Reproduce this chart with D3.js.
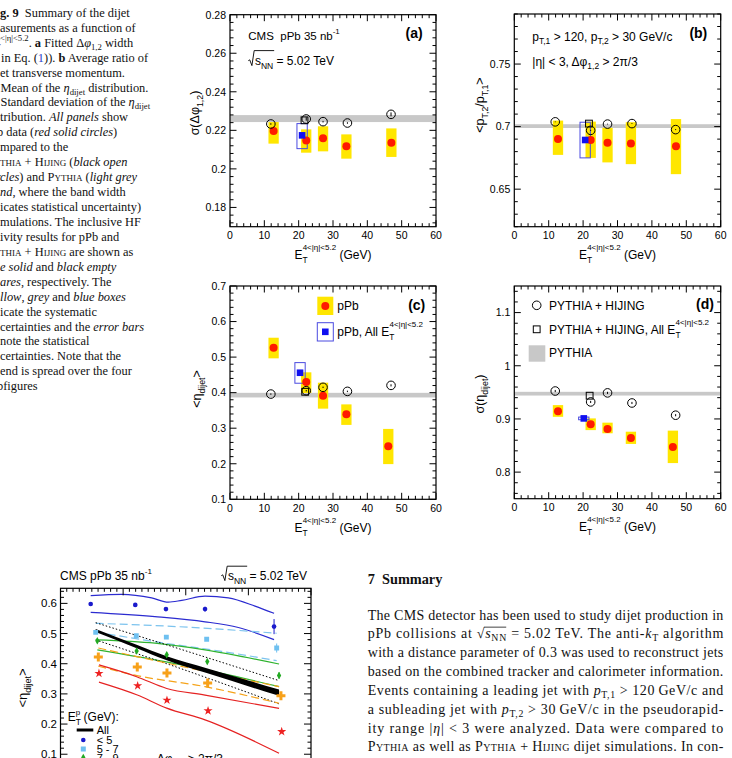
<!DOCTYPE html>
<html>
<head>
<meta charset="utf-8">
<script src="https://cdn.jsdelivr.net/npm/d3@7/dist/d3.min.js"></script>
<style>
html,body{margin:0;padding:0;background:#fff;overflow:hidden;}
svg{display:block;}
text{white-space:pre;}
</style>
</head>
<body>
<svg id="fig" width="732" height="758"></svg>
<script>
// ================= DATA : Fig. 9 (four panels) =================
const etPPb      = [12.7, 22.2, 27.1, 33.9, 47.0];   // panels a, b
const etPPbCD    = [12.7, 22.2, 27.1, 33.9, 46.1];   // panels c, d
const etHijing   = [11.9, 22.2, 27.1, 34.2, 46.9];
const etAllPPb   = [21.0, 20.6, 20.4, 20.2];         // a, b, c, d
const etAllHij   = [21.7, 21.7, 21.9, 21.9];         // a, b, c, d
const xTickValues = [0, 10, 20, 30, 40, 50, 60];

// (a) sigma(dphi_12)
const dphiPPb    = [0.2196, 0.2147, 0.2159, 0.2117, 0.2136];
const dphiSysLo  = [0.2131, 0.2084, 0.2091, 0.2053, 0.2062];
const dphiSysHi  = [0.2243, 0.2205, 0.2221, 0.2179, 0.2210];
const dphiHij    = [0.2233, 0.2259, 0.2245, 0.2238, 0.2283];
const dphiHijErr = [0.0004, 0.0009, 0.0004, 0.0004, 0.0010];
const dphiAll    = [0.2174, 0.2105, 0.2235];   // value, sys low, sys high
const dphiHijAll = [0.2252];
const dphiPythia = [0.2261, 0.0018];           // centre, half width
const dphiTicks  = [0.18, 0.2, 0.22, 0.24, 0.26, 0.28];

// (b) <pT2/pT1>
const ratioPPb    = [0.6900, 0.6893, 0.6870, 0.6865, 0.6843];
const ratioSysLo  = [0.6774, 0.6750, 0.6714, 0.6700, 0.6620];
const ratioSysHi  = [0.7048, 0.7040, 0.6990, 0.7035, 0.7060];
const ratioHij    = [0.7038, 0.6970, 0.7020, 0.7024, 0.6976];
const ratioHijErr = [0.0003, 0.0004, 0.0003, 0.0003, 0.0004];
const ratioAll    = [0.6893, 0.6750, 0.7035];
const ratioHijAll = [0.7024];
const ratioPythia = [0.7004, 0.0015];
const ratioTicks  = [0.65, 0.7, 0.75];

// (c) <eta_dijet>
const etaPPb    = [0.526, 0.430, 0.391, 0.339, 0.249];
const etaSysLo  = [0.4965, 0.399, 0.355, 0.3093, 0.199];
const etaSysHi  = [0.5545, 0.4572, 0.428, 0.367, 0.298];
const etaHij    = [0.396, 0.4055, 0.415, 0.4036, 0.4205];
const etaHijErr = [0.002, 0.002, 0.002, 0.002, 0.003];
const etaAll    = [0.456, 0.4265, 0.4845];
const etaHijAll = [0.4025];
const etaPythia = [0.393, 0.0065];
const etaTicks  = [0.1, 0.2, 0.3, 0.4, 0.5, 0.6, 0.7];

// (d) sigma(eta_dijet)
const sigEtaPPb    = [0.9144, 0.890, 0.881, 0.864, 0.847];
const sigEtaSysLo  = [0.904, 0.879, 0.873, 0.853, 0.817];
const sigEtaSysHi  = [0.926, 0.901, 0.893, 0.876, 0.878];
const sigEtaHij    = [0.9525, 0.932, 0.949, 0.930, 0.907];
const sigEtaHijErr = [0.002, 0.002, 0.002, 0.002, 0.002];
const sigEtaAll    = [0.901, 0.8985, 0.9035];
const sigEtaHijAll = [0.9437];
const sigEtaPythia = [0.9475, 0.0035];
const sigEtaTicks  = [0.8, 0.9, 1, 1.1];

// ================= DATA : Fig. 10 (partially visible) =================
const ptLt5   = [74.1, 109.7, 134.2, 165.4, 220.5];
const etaLt5  = [0.598, 0.595, 0.581, 0.581, 0.523];
const errLt5  = [0.004, 0.004, 0.006, 0.008, 0.025];
const pt5to7  = [78.1, 110.5, 134.5, 166.7, 222.6];
const eta5to7 = [0.504, 0.493, 0.488, 0.481, 0.452];
const err5to7 = [0.003, 0.004, 0.004, 0.005, 0.015];
const pt7to9  = [79.4, 110.8, 134.8, 167.2, 224.5];
const eta7to9 = [0.476, 0.442, 0.430, 0.407, 0.361];
const err7to9 = [0.008, 0.009, 0.009, 0.009, 0.011];
const pt9to12  = [80.2, 111.3, 135.0, 167.5, 226.0];
const eta9to12 = [0.422, 0.389, 0.369, 0.336, 0.294];
const pt12up   = [80.7, 111.6, 135.0, 167.8, 226.6];
const eta12up  = [0.368, 0.327, 0.279, 0.244, 0.175];
const etaYTicks = [0.1, 0.2, 0.3, 0.4, 0.5, 0.6];

// model curves [pT, <eta>]
const curveBlueHi  = [[74.1,0.626],[98.9,0.630],[122.8,0.618],[136.1,0.604],[146.8,0.610],[165.4,0.624],[184.0,0.618],[205.3,0.591],[220.5,0.567]];
const curveBlueLo  = [[74.1,0.570],[125.4,0.556],[165.4,0.539],[192.0,0.520],[220.5,0.480]];
const curveLBlueHi = [[78.1,0.534],[152.0,0.521],[222.6,0.501]];
const curveLBlueLo = [[78.1,0.505],[133.4,0.468],[178.7,0.441],[222.6,0.410]];
const curveGreenHi = [[79.4,0.479],[125.4,0.468],[165.4,0.446],[224.5,0.399]];
const curveGreenLo = [[79.4,0.446],[133.4,0.407],[178.7,0.368],[224.5,0.324]];
const curveAllPt   = [78.1, 110.8, 134.8, 166.7, 224.5];
const curveAllHi   = [0.515, 0.4625, 0.4245, 0.385, 0.3145];
const curveAllLo   = [0.505, 0.4515, 0.4115, 0.369, 0.2935];
const curveDotHi   = [[78.1,0.536],[152.0,0.440],[224.5,0.344]];
const curveDotLo   = [[78.1,0.479],[133.4,0.402],[224.5,0.267]];
const curveOrangeHi = [[80.2,0.452],[134.8,0.402],[224.5,0.324]];
const curveOrangeLo = [[80.2,0.392],[109.5,0.362],[165.4,0.324],[224.5,0.269]];
const curveRedHi   = [[80.7,0.396],[110.8,0.357],[134.8,0.318],[165.4,0.296],[224.5,0.252]];
const curveRedLo   = [[80.7,0.339],[110.8,0.297],[134.8,0.253],[165.4,0.214],[224.5,0.103]];

// ================= TEXT =================
const captionLines = [
  [2, 0,  [{t:"Fig. 9",b:1},{t:"  Summary of the dijet"}]],
  [2, 0,  [{t:"measurements as a function of"}]],
  [3, 0,  [{t:"E",i:1},{t:"T",sub:1},{t:"4<|η|<5.2",sup:1,dx:-5},{t:". "},{t:"a",b:1},{t:" Fitted Δ"},{t:"φ",i:1},{t:"1,2",sub:1},{t:" width"}]],
  [3, 1,  [{t:"("},{t:"σ",i:1},{t:" in Eq. ("},{t:"1",fill:"#2a3fc9"},{t:")). "},{t:"b",b:1},{t:" Average ratio of"}]],
  [3, 0,  [{t:"dijet transverse momentum."}]],
  [2, 0.5,[{t:"c",b:1},{t:" Mean of the "},{t:"η",i:1},{t:"dijet",sub:1},{t:" distribution."}]],
  [2, 0.5,[{t:"d",b:1},{t:" Standard deviation of the "},{t:"η",i:1},{t:"dijet",sub:1}]],
  [3, 0,  [{t:"distribution. "},{t:"All panels",i:1},{t:" show"}]],
  [2, -3, [{t:"pPb data ("},{t:"red solid circles",i:1},{t:")"}]],
  [2, 0,  [{t:"compared to the"}]],
  [2, 0,  [{t:"Pythia",sc:1},{t:" + "},{t:"Hijing",sc:1},{t:" ("},{t:"black open",i:1}]],
  [3, 0,  [{t:"circles",i:1},{t:") and "},{t:"Pythia",sc:1},{t:" ("},{t:"light grey",i:1}]],
  [2, 0,  [{t:"band",i:1},{t:", where the band width"}]],
  [3, 0,  [{t:"indicates statistical uncertainty)"}]],
  [2, 0,  [{t:"simulations. The inclusive HF"}]],
  [3, 0,  [{t:"activity results for pPb and"}]],
  [2, 0,  [{t:"Pythia",sc:1},{t:" + "},{t:"Hijing",sc:1},{t:" are shown as"}]],
  [3, 0,  [{t:"blue solid",i:1},{t:" and "},{t:"black empty",i:1}]],
  [3, 0,  [{t:"squares",i:1},{t:", respectively. The"}]],
  [2, 0,  [{t:"yellow",i:1},{t:", "},{t:"grey",i:1},{t:" and "},{t:"blue boxes",i:1}]],
  [3, 0,  [{t:"indicate the systematic"}]],
  [2, 0,  [{t:"uncertainties and the "},{t:"error bars",i:1}]],
  [2, 0,  [{t:"denote the statistical"}]],
  [2, 0,  [{t:"uncertainties. Note that the"}]],
  [3, 0,  [{t:"legend is spread over the four"}]],
  [2, -3, [{t:"subfigures"}]]
];

const summaryTitle = "7  Summary";
const summaryLines = [
  [{t:"The CMS detector has been used to study dijet production in"}],
  [{t:"pPb collisions at "},{t:"√"},{t:"s",i:1},{t:"NN",sub:1},{t:" = 5.02 TeV. The anti-"},{t:"k",i:1},{t:"T",sub:1},{t:" algorithm"}],
  [{t:"with a distance parameter of 0.3 was used to reconstruct jets"}],
  [{t:"based on the combined tracker and calorimeter information."}],
  [{t:"Events containing a leading jet with "},{t:"p",i:1},{t:"T,1",sub:1},{t:" > 120\u2009GeV/c and"}],
  [{t:"a subleading jet with "},{t:"p",i:1},{t:"T,2",sub:1},{t:" > 30\u2009GeV/c in the pseudorapid-"}],
  [{t:"ity range |"},{t:"η",i:1},{t:"| < 3 were analyzed. Data were compared to"}],
  [{t:"Pythia",sc:1},{t:" as well as "},{t:"Pythia",sc:1},{t:" + "},{t:"Hijing",sc:1},{t:" dijet simulations. In con-"}]
];

// ================= DRAWING =================
const SANS  = "'Liberation Sans', Arial, Helvetica, sans-serif";
const SERIF = "'Liberation Serif', 'Times New Roman', serif";
const YELLOW = "#ffe600", RED = "#ff1a00", GREYBAND = "#c8c8c8", BLUE = "#1010f0", BLUEBOX = "#4a4ae0";
const svg = d3.select("#fig");
svg.append("rect").attr("width", 732).attr("height", 758).attr("fill", "#fff");
const defs = svg.append("defs");

function rich(parent, x, y, segs, o = {}) {
  const fs = o.size || 12;
  const t = parent.append("text").attr("x", x).attr("y", y)
    .attr("font-family", o.family || SANS).attr("font-size", fs).attr("fill", o.fill || "#000");
  if (o.anchor) t.attr("text-anchor", o.anchor);
  if (o.weight) t.attr("font-weight", o.weight);
  if (o.transform) t.attr("transform", o.transform);
  const subS = o.subShift != null ? o.subShift : fs * 0.3;
  const supS = o.supShift != null ? o.supShift : fs * 0.45;
  let cur = 0;
  segs.forEach(s => {
    const sp = t.append("tspan").text(s.t);
    let target = s.sub ? subS : (s.sup ? -supS : 0);
    if (s.shift != null) target = s.shift;
    if (target !== cur) { sp.attr("dy", target - cur); cur = target; }
    if (s.sub || s.sup) sp.attr("font-size", s.fs || fs * (o.scriptScale || 0.7));
    if (s.dx) sp.attr("dx", s.dx);
    if (s.i) sp.attr("font-style", "italic");
    if (s.b) sp.attr("font-weight", "bold");
    if (s.sc) sp.attr("font-variant", "small-caps");
    if (s.fill) sp.attr("fill", s.fill);
  });
  return t;
}

// ROOT-like radical: draws sqrt sign before text, overline across first nUnder chars
function sqrtLabel(parent, x, y, segs, nUnder, o = {}) {
  const fs = o.size || 12;
  const rw = fs * 0.55;
  let t;
  if (o.anchor === "end") {
    t = rich(parent, x, y, segs, o);
  } else {
    t = rich(parent, x + rw, y, segs, o);
  }
  const node = t.node();
  const tx = node.getStartPositionOfChar(0).x;
  const ex = node.getEndPositionOfChar(nUnder - 1).x;
  const h = fs * (o.rootH || 1.05);
  const sx = tx - rw;
  parent.append("path")
    .attr("d", `M${sx},${y - fs * 0.36} L${sx + fs * 0.12},${y - fs * 0.43} L${sx + fs * 0.3},${y + fs * 0.05} L${tx - fs * 0.06},${y - h} L${ex + 1},${y - h}`)
    .attr("fill", "none").attr("stroke", "#000").attr("stroke-width", 0.9);
  return t;
}

function stepVals(d0, d1, step) {
  const out = [];
  for (let k = Math.ceil(d0 / step - 1e-9); k * step <= d1 + 1e-9; k++) out.push(+(k * step).toFixed(10));
  return out;
}

function ticksAround(g, x, y, xMaj, xMin, yMaj, yMin, lenMaj, lenMin) {
  const [x0, x1] = x.range(), [y1, y0] = y.range();
  const xd = x.domain(), yd = y.domain();
  const lines = [];
  stepVals(xd[0], xd[1], xMin).forEach(v => {
    const L = (Math.abs(v / xMaj - Math.round(v / xMaj)) < 1e-6) ? lenMaj : lenMin;
    lines.push([x(v), y1, x(v), y1 - L], [x(v), y0, x(v), y0 + L]);
  });
  stepVals(yd[0], yd[1], yMin).forEach(v => {
    const L = (Math.abs(v / yMaj - Math.round(v / yMaj)) < 1e-6) ? lenMaj : lenMin;
    lines.push([x0, y(v), x0 + L, y(v)], [x1, y(v), x1 - L, y(v)]);
  });
  g.append("g").selectAll("line").data(lines).join("line")
    .attr("x1", d => d[0]).attr("y1", d => d[1]).attr("x2", d => d[2]).attr("y2", d => d[3])
    .attr("stroke", "#000").attr("stroke-width", 1);
}

const ET_TITLE = [{t:"E"},{t:"T",sub:1,shift:4},{t:"4<|η|<5.2",sup:1,shift:-9,fs:8,dx:-5},{t:" (GeV)",shift:0}];
const BOXHALF = 1.5;

function drawPanel(P) {
  const g = svg.append("g");
  const x = d3.scaleLinear().domain([0, 60]).range([P.x0, P.x1]);
  const y = d3.scaleLinear().domain(P.yDomain).range([P.y1, P.y0]);
  defs.append("clipPath").attr("id", "clip" + P.id).append("rect")
    .attr("x", P.x0).attr("y", P.y0).attr("width", P.x1 - P.x0).attr("height", P.y1 - P.y0);
  const plot = g.append("g").attr("clip-path", `url(#clip${P.id})`);
  const idx = d3.range(P.val.length);
  // PYTHIA band
  plot.append("rect").attr("x", x(0)).attr("width", x(60) - x(0))
    .attr("y", y(P.pythia[0] + P.pythia[1])).attr("height", y(P.pythia[0] - P.pythia[1]) - y(P.pythia[0] + P.pythia[1]))
    .attr("fill", GREYBAND);
  // yellow systematic boxes
  plot.selectAll("rect.sys").data(idx).join("rect").attr("class", "sys")
    .attr("x", i => x(P.et[i] - BOXHALF)).attr("width", i => x(P.et[i] + BOXHALF) - x(P.et[i] - BOXHALF))
    .attr("y", i => y(P.hi[i])).attr("height", i => y(P.lo[i]) - y(P.hi[i])).attr("fill", YELLOW);
  // blue systematic box (all E_T)
  plot.append("rect").attr("x", x(P.allEt - BOXHALF)).attr("width", x(P.allEt + BOXHALF) - x(P.allEt - BOXHALF))
    .attr("y", y(P.all[2])).attr("height", y(P.all[1]) - y(P.all[2]))
    .attr("fill", "none").attr("stroke", BLUEBOX).attr("stroke-width", 1);
  // red data
  plot.selectAll("circle.data").data(idx).join("circle").attr("class", "data")
    .attr("cx", i => x(P.et[i])).attr("cy", i => y(P.val[i])).attr("r", 4).attr("fill", RED);
  // blue square
  plot.append("rect").attr("x", x(P.allEt) - 3.3).attr("y", y(P.all[0]) - 3.3).attr("width", 6.6).attr("height", 6.6).attr("fill", BLUE);
  // PYTHIA+HIJING error bars + open circles
  plot.selectAll("line.herr").data(idx).join("line").attr("class", "herr")
    .attr("x1", i => x(etHijing[i])).attr("x2", i => x(etHijing[i]))
    .attr("y1", i => y(P.hij[i] + P.hijErr[i])).attr("y2", i => y(P.hij[i] - P.hijErr[i]))
    .attr("stroke", "#000").attr("stroke-width", 1);
  plot.selectAll("circle.hij").data(idx).join("circle").attr("class", "hij")
    .attr("cx", i => x(etHijing[i])).attr("cy", i => y(P.hij[i])).attr("r", 4.3)
    .attr("fill", "none").attr("stroke", "#000").attr("stroke-width", 1);
  plot.append("rect").attr("x", x(P.hijAllEt) - 3.4).attr("y", y(P.hijAll[0]) - 3.4).attr("width", 6.8).attr("height", 6.8)
    .attr("fill", "none").attr("stroke", "#000").attr("stroke-width", 1);
  // frame
  g.append("rect").attr("x", P.x0).attr("y", P.y0).attr("width", P.x1 - P.x0).attr("height", P.y1 - P.y0)
    .attr("fill", "none").attr("stroke", "#000").attr("stroke-width", 1.2);
  ticksAround(g, x, y, 10, 2, P.yMaj, P.yMin, 6.5, 3.5);
  // tick labels
  g.append("g").selectAll("text").data(xTickValues).join("text")
    .attr("x", d => x(d)).attr("y", P.y1 + 12.6).attr("text-anchor", "middle")
    .attr("font-family", SANS).attr("font-size", 10.5).text(d => d);
  g.append("g").selectAll("text").data(P.yTicks).join("text")
    .attr("x", P.x0 - 4).attr("y", d => y(d) + 3.8).attr("text-anchor", "end")
    .attr("font-family", SANS).attr("font-size", 10.5).text(d => d3.format("~g")(d));
  // axis titles
  rich(g, (P.x0 + P.x1) / 2, P.y1 + 32.5, ET_TITLE, {size: 12, anchor: "middle"});
  rich(g, 0, 0, P.yTitle, {size: 12.5, anchor: "middle", transform: `translate(${P.ytx},${P.yty}) rotate(-90)`});
  // panel label
  g.append("text").attr("x", P.labX).attr("y", P.labY).attr("text-anchor", "end")
    .attr("font-family", SANS).attr("font-weight", "bold").attr("font-size", 14).text(`(${P.id})`);
  return {g, x, y};
}

const A = drawPanel({id: "a", x0: 230, x1: 436, y0: 14.7, y1: 226.7, yDomain: [0.17, 0.28], yMaj: 0.02, yMin: 0.004,
  et: etPPb, val: dphiPPb, lo: dphiSysLo, hi: dphiSysHi, hij: dphiHij, hijErr: dphiHijErr,
  all: dphiAll, allEt: etAllPPb[0], hijAll: dphiHijAll, hijAllEt: etAllHij[0], pythia: dphiPythia, yTicks: dphiTicks,
  yTitle: [{t:"σ(Δφ"},{t:"1,2",sub:1},{t:")"}], ytx: 199, yty: 113, labX: 422.7, labY: 37.5});
const B = drawPanel({id: "b", x0: 514.3, x1: 720.7, y0: 14, y1: 226.7, yDomain: [0.62, 0.79], yMaj: 0.05, yMin: 0.01,
  et: etPPb, val: ratioPPb, lo: ratioSysLo, hi: ratioSysHi, hij: ratioHij, hijErr: ratioHijErr,
  all: ratioAll, allEt: etAllPPb[1], hijAll: ratioHijAll, hijAllEt: etAllHij[1], pythia: ratioPythia, yTicks: ratioTicks,
  yTitle: [{t:"<p"},{t:"T,2",sub:1},{t:"/p"},{t:"T,1",sub:1},{t:">"}], ytx: 484, yty: 105, labX: 707.3, labY: 37.5});
const C = drawPanel({id: "c", x0: 230, x1: 436, y0: 286, y1: 499.3, yDomain: [0.1, 0.7], yMaj: 0.1, yMin: 0.02,
  et: etPPbCD, val: etaPPb, lo: etaSysLo, hi: etaSysHi, hij: etaHij, hijErr: etaHijErr,
  all: etaAll, allEt: etAllPPb[2], hijAll: etaHijAll, hijAllEt: etAllHij[2], pythia: etaPythia, yTicks: etaTicks,
  yTitle: [{t:"<η"},{t:"dijet",sub:1},{t:">"}], ytx: 201, yty: 389, labX: 425.3, labY: 309.5});
const D = drawPanel({id: "d", x0: 514.3, x1: 720.7, y0: 286, y1: 498.7, yDomain: [0.75, 1.15], yMaj: 0.1, yMin: 0.02,
  et: etPPbCD, val: sigEtaPPb, lo: sigEtaSysLo, hi: sigEtaSysHi, hij: sigEtaHij, hijErr: sigEtaHijErr,
  all: sigEtaAll, allEt: etAllPPb[3], hijAll: sigEtaHijAll, hijAllEt: etAllHij[3], pythia: sigEtaPythia, yTicks: sigEtaTicks,
  yTitle: [{t:"σ(η"},{t:"dijet",sub:1},{t:")"}], ytx: 484, yty: 394, labX: 714, labY: 308.5});

// panel (a) texts
rich(svg, 248.3, 39.5, [{t:"CMS  pPb 35 nb"},{t:"-1",sup:1,shift:-6,fs:8}], {size: 11.5});
sqrtLabel(svg, 248.3, 65, [{t:"s"},{t:"NN",sub:1,shift:3.5,fs:8.5},{t:" = 5.02 TeV",shift:0}], 3, {size: 12, rootH: 1.2});
// panel (b) texts
rich(svg, 532.3, 40.5, [{t:"p"},{t:"T,1",sub:1,shift:3.5,fs:8.5},{t:" > 120, p",shift:0},{t:"T,2",sub:1,shift:3.5,fs:8.5},{t:" > 30 GeV/c",shift:0}], {size: 12});
rich(svg, 532.3, 65.5, [{t:"|η| < 3, Δφ"},{t:"1,2",sub:1,shift:3.5,fs:8.5},{t:" > 2π/3",shift:0}], {size: 12});

// panel (c) legend
C.g.append("rect").attr("x", 317.3).attr("y", 296.7).attr("width", 16).attr("height", 18.3).attr("fill", YELLOW);
C.g.append("circle").attr("cx", 325.3).attr("cy", 306).attr("r", 4).attr("fill", RED);
rich(C.g, 337.3, 310.3, [{t:"pPb"}], {size: 12});
C.g.append("rect").attr("x", 317.3).attr("y", 322.7).attr("width", 16).attr("height", 18.3).attr("fill", "none").attr("stroke", BLUEBOX);
C.g.append("rect").attr("x", 322).attr("y", 328.5).attr("width", 6.6).attr("height", 6.6).attr("fill", BLUE);
rich(C.g, 337.3, 336, [{t:"pPb, All E"},{t:"T",sub:1,shift:4},{t:"4<|η|<5.2",sup:1,shift:-9,fs:8,dx:-5}], {size: 12});

// panel (d) legend
D.g.append("circle").attr("cx", 536.7).attr("cy", 305.3).attr("r", 4.3).attr("fill", "none").attr("stroke", "#000");
rich(D.g, 549, 309.6, [{t:"PYTHIA + HIJING"}], {size: 12});
D.g.append("rect").attr("x", 533.3).attr("y", 325.9).attr("width", 6.8).attr("height", 6.8).attr("fill", "none").attr("stroke", "#000");
rich(D.g, 549, 333.6, [{t:"PYTHIA + HIJING, All E"},{t:"T",sub:1,shift:4},{t:"4<|η|<5.2",sup:1,shift:-9,fs:8,dx:-5}], {size: 12});
D.g.append("rect").attr("x", 528.7).attr("y", 345.3).attr("width", 16.6).attr("height", 16.4).attr("fill", GREYBAND);
rich(D.g, 549, 357.4, [{t:"PYTHIA"}], {size: 12});

// ================= caption (left column, clipped by page edge) =================
captionLines.forEach(([cut, vis, segs], i) => {
  const t = rich(svg, 0, 16.8 + 14.94 * i, segs, {family: SERIF, size: 12.4, subShift: 3, supShift: 5.5, fill: "#111"});
  const p = t.node().getStartPositionOfChar(cut).x;
  t.attr("x", vis - p);
});

// ================= Fig. 10 (bottom, partially visible) =================
const bx = d3.scaleLinear().domain([50, 250]).range([60.5, 311]);
const by = d3.scaleLinear().domain([0, 0.65]).range([784.4, 588.3]);
const bg = svg.append("g");
defs.append("clipPath").attr("id", "clipB").append("rect").attr("x", 60.5).attr("y", 588.3).attr("width", 250.5).attr("height", 200);
const bp = bg.append("g").attr("clip-path", "url(#clipB)");
const lineGen = d3.line().x(d => bx(d[0])).y(d => by(d[1])).curve(d3.curveMonotoneX);
const curves = [
  [curveBlueHi, "#2b2bd0", null, 1.2], [curveBlueLo, "#2b2bd0", null, 1.2],
  [curveLBlueHi, "#7cc3ee", "8,4", 1.2], [curveLBlueLo, "#7cc3ee", "8,4", 1.2],
  [curveGreenHi, "#2fb32f", null, 1.2], [curveGreenLo, "#2fb32f", null, 1.2],
  [curveDotHi, "#000", "1.5,2", 1], [curveDotLo, "#000", "1.5,2", 1],
  [curveOrangeHi, "#f5a31a", "8,4", 1.2], [curveOrangeLo, "#f5a31a", "8,4", 1.2],
  [curveRedHi, "#e52222", null, 1.2], [curveRedLo, "#e52222", null, 1.2]
];
curves.forEach(([pts, col, dash, w]) => {
  const p = bp.append("path").attr("d", lineGen(pts)).attr("fill", "none").attr("stroke", col).attr("stroke-width", w);
  if (dash) p.attr("stroke-dasharray", dash);
});
const allArea = d3.area().x(i => bx(curveAllPt[i])).y0(i => by(curveAllLo[i])).y1(i => by(curveAllHi[i])).curve(d3.curveMonotoneX);
bp.append("path").attr("d", allArea(d3.range(curveAllPt.length))).attr("fill", "#000");

function errBars(xs, ys, es, col) {
  bp.append("g").selectAll("line").data(d3.range(xs.length)).join("line")
    .attr("x1", i => bx(xs[i])).attr("x2", i => bx(xs[i]))
    .attr("y1", i => by(ys[i] + es[i])).attr("y2", i => by(ys[i] - es[i]))
    .attr("stroke", col).attr("stroke-width", 1);
}
function markers(xs, ys, type, size, col) {
  bp.append("g").selectAll("path").data(d3.range(xs.length)).join("path")
    .attr("transform", i => `translate(${bx(xs[i])},${by(ys[i])})`)
    .attr("d", d3.symbol().type(type).size(size)).attr("fill", col);
}
errBars(ptLt5, etaLt5, errLt5, "#1a1acc");
errBars(pt5to7, eta5to7, err5to7, "#6ec0f0");
errBars(pt7to9, eta7to9, err7to9, "#22aa22");
markers(ptLt5, etaLt5, d3.symbolCircle, 17, "#1a1acc");
markers(pt5to7, eta5to7, d3.symbolSquare, 24, "#6ec0f0");
markers(pt7to9, eta7to9, d3.symbolDiamond, 16, "#22aa22");
markers(pt9to12, eta9to12, d3.symbolCross, 45, "#f7a11a");
markers(pt12up, eta12up, d3.symbolStar, 26, "#ee2222");

// frame & ticks of fig 10
bg.append("rect").attr("x", 60.5).attr("y", 588.3).attr("width", 250.5).attr("height", 220)
  .attr("fill", "none").attr("stroke", "#000").attr("stroke-width", 1.2);
ticksAround(bg, bx, d3.scaleLinear().domain([0, 0.65]).range([784.4, 588.3]), 50, 5, 0.1, 0.02, 7, 3.5);
bg.append("g").selectAll("text").data(etaYTicks).join("text")
  .attr("x", 57).attr("y", d => by(d) + 4).attr("text-anchor", "end")
  .attr("font-family", SANS).attr("font-size", 11.5).text(d => d3.format("~g")(d));
rich(bg, 0, 0, [{t:"<η"},{t:"dijet",sub:1},{t:">"}], {size: 13, anchor: "middle", transform: "translate(27,688) rotate(-90)"});
rich(bg, 60, 580, [{t:"CMS pPb 35 nb"},{t:"-1",sup:1,shift:-6,fs:8}], {size: 12});
sqrtLabel(bg, 307, 580, [{t:"s"},{t:"NN",sub:1,shift:3.5,fs:8.5},{t:" = 5.02 TeV",shift:0}], 3, {size: 12, anchor: "end", rootH: 1.15});
// legend
rich(bg, 67.7, 721, [{t:"E"},{t:"T",sub:1,shift:4},{t:"p",sup:1,shift:-6,fs:8,dx:-5},{t:" (GeV):",shift:0}], {size: 12});
bg.append("line").attr("x1", 76.7).attr("x2", 93.3).attr("y1", 730).attr("y2", 730).attr("stroke", "#000").attr("stroke-width", 3);
rich(bg, 96.7, 733.8, [{t:"All"}], {size: 11});
bg.append("circle").attr("cx", 83.3).attr("cy", 740).attr("r", 2.3).attr("fill", "#1a1acc");
rich(bg, 96.7, 743.6, [{t:"< 5"}], {size: 11});
bg.append("rect").attr("x", 80.8).attr("y", 746.5).attr("width", 5).attr("height", 5).attr("fill", "#6ec0f0");
rich(bg, 96.7, 752.6, [{t:"5 - 7"}], {size: 11});
bg.append("path").attr("transform", "translate(83.3,757.5)").attr("d", d3.symbol().type(d3.symbolDiamond).size(16)).attr("fill", "#22aa22");
rich(bg, 96.7, 761.6, [{t:"7 - 9"}], {size: 11});
rich(bg, 156.7, 763, [{t:"Δφ"},{t:"1,2",sub:1,shift:3.5,fs:8.5},{t:" > 2π/3",shift:0}], {size: 12});

// ================= Section 7 Summary =================
svg.append("text").attr("x", 367.7).attr("y", 583.5).attr("font-family", SERIF).attr("font-weight", "bold")
  .attr("font-size", 14.3).attr("fill", "#111").text(summaryTitle);
summaryLines.forEach((segs, i) => {
  const yb = 619.5 + 18.85 * i;
  const t = rich(svg, 367.7, yb, segs, {family: SERIF, size: 14, subShift: 3, fill: "#111"});
  t.attr("textLength", 355.6).attr("lengthAdjust", "spacing");
  if (i === 1) {
    const n = t.node();
    const x0 = n.getEndPositionOfChar(18).x, x1 = n.getEndPositionOfChar(21).x;
    svg.append("line").attr("x1", x0 - 0.5).attr("x2", x1).attr("y1", yb - 11.2).attr("y2", yb - 11.2)
      .attr("stroke", "#111").attr("stroke-width", 0.8);
  }
});
</script>
</body>
</html>
